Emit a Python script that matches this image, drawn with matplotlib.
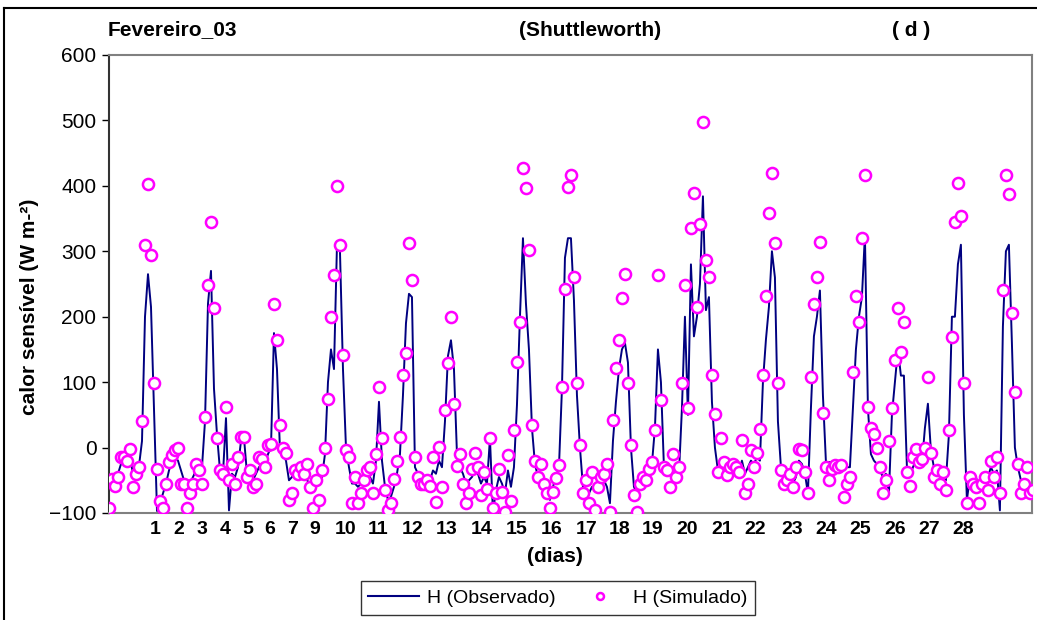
#!/usr/bin/env python3
'''Sensible heat flux, observed vs simulated (Shuttleworth), Feb 2003'''

import matplotlib
matplotlib.use('Agg')
import matplotlib.pyplot as plt
from matplotlib.lines import Line2D

# sample index along the x axis (category axis, one value per record)
obs = [
    -55, -50, -48, -40, -25, -20, -22, -15, -40, -35,
    -28, 10, 200, 265, 215, 60, -97, -85, -70, -55,
    -35, -20, -15, -20, -35, -50, -60, -55, -45, -35,
    -40, -30, 40, 220, 270, 90, 20, -35, -40, 45,
    -96, -40, -45, -30, 10, 15, -40, -45, -50, -40,
    -30, -25, -25, -10, 0, 175, 120, -5, -10, -20,
    -50, -45, -40, -38, -40, -45, -50, -55, -65, -55,
    -55, -45, -10, 100, 150, 120, 310, 300, 120, 0,
    -30, -55, -55, -60, -55, -50, -45, -45, -55, -20,
    70, -20, -60, -80, -75, -60, -40, -10, 80, 190,
    235, 230, -30, -40, -45, -50, -45, -50, -35, -40,
    -20, -30, 40, 140, 164, 120, -10, -30, -40, -55,
    -50, -45, -35, -40, -55, -45, -55, 14, -100, -65,
    -45, -55, -70, -35, -60, -30, 65, 200, 320, 220,
    150, 30, -25, -45, -40, -55, -65, -80, -60, -45,
    -30, 90, 290, 320, 320, 225, 80, 0, -60, -65,
    -70, -60, -65, -55, -55, -50, -60, -85, 10, 70,
    120, 150, 160, 130, 0, -60, -70, -55, -45, -45,
    -35, -25, 30, 150, 100, -30, -25, -40, -30, -50,
    -40, 60, 200, 50, 280, 170, 200, 250, 384, 210,
    230, 70, 0, -35, -30, -30, -35, -35, -32, -35,
    -40, -20, -40, -30, -20, -25, -15, -20, 100, 165,
    215, 300, 260, 40, -30, -50, -55, -55, -55, -45,
    -20, -25, -40, -70, 60, 170, 200, 240, 80, -22,
    -22, -22, -22, -22, -22, -22, -30, -30, 60, 150,
    200, 230, 325, 60, -10, -20, -25, -35, -45, -40,
    -70, 50, 100, 150, 110, 110, -30, -45, -30, -20,
    -25, -25, 30, 67, -5, -30, -40, -45, -45, -50,
    20, 200, 200, 280, 310, 50, -80, -45, -40, -45,
    -60, -45, -40, -45, -30, -40, -35, -96, 185, 300,
    310, 160, 0, -30, -50, -55, -50, -70, -60,
]

sim = [
    -93, -48, -58, -45, -15, -14, -20, -2, -60, -40,
    -30, 40, 310, 403, 294, 98, -32, -81, -93, -55,
    -22, -12, -4, 0, -55, -55, -93, -70, -55, -25,
    -35, -55, 47, 248, 345, 213, 14, -35, -40, 62,
    -50, -25, -55, -15, 16, 16, -45, -35, -60, -55,
    -15, -18, -30, 4, 6, 220, 164, 35, 0, -8,
    -80, -70, -35, -40, -30, -40, -25, -60, -93, -50,
    -80, -35, 0, 75, 200, 264, 400, 310, 141, -4,
    -15, -85, -45, -85, -70, -50, -35, -30, -70, -10,
    92, 14, -65, -95, -85, -48, -20, 16, 111, 144,
    312, 256, -14, -45, -55, -55, -50, -58, -14, -83,
    1, -60, 57, 129, 200, 67, -28, -10, -55, -85,
    -70, -32, -9, -30, -73, -37, -63, 14, -93, -70,
    -32, -68, -98, -12, -81, 27, 131, 192, 427, 396,
    302, 34, -20, -45, -25, -55, -70, -93, -68, -47,
    -27, 93, 243, 398, 417, 261, 98, 4, -70, -50,
    -85, -38, -95, -60, -45, -40, -25, -98, 42, 121,
    164, 228, 266, 98, 4, -73, -98, -55, -45, -50,
    -33, -22, 27, 264, 72, -30, -35, -60, -10, -45,
    -30, 98, 248, 60, 335, 389, 215, 342, 498, 287,
    260, 111, 52, -37, 14, -22, -42, -30, -25, -30,
    -37, 11, -70, -55, -4, -30, -9, 29, 111, 231,
    358, 419, 312, 98, -35, -55, -50, -40, -60, -30,
    -2, -4, -37, -70, 108, 220, 261, 314, 53, -30,
    -50, -32, -27, -30, -27, -75, -55, -45, 116, 231,
    192, 320, 417, 62, 30, 21, 0, -30, -70, -50,
    10, 60, 134, 213, 146, 192, -38, -58, -14, -2,
    -22, -18, 0, 108, -9, -45, -35, -55, -37, -65,
    27, 169, 345, 404, 354, 98, -85, -45, -55, -60,
    -85, -55, -45, -65, -20, -45, -15, -70, 241, 417,
    387, 205, 85, -25, -70, -55, -30, -70, -65,
]

# where Excel put the day labels along the sample index
day_labels = ['1', '2', '3', '4', '5', '6', '7', '9', '10', '11', '12', '13', '14',
              '15', '16', '17', '18', '19', '20', '21', '22', '23', '24', '25',
              '26', '27', '28']
day_ticks = [15.3, 23.3, 31.0, 38.7, 46.3, 53.7, 61.3, 68.7, 78.7, 89.7, 101.3,
             112.7, 124.3, 136.0, 147.7, 159.3, 170.3, 181.3, 192.7, 204.3, 215.3,
             227.7, 239.0, 250.3, 262.0, 273.3, 284.7]

W, H = 1037, 620
FONT = 'Liberation Sans'

plt.rcParams['font.family'] = [FONT, 'DejaVu Sans']

fig = plt.figure(figsize=(W / 100, H / 100), dpi=100)
ax = fig.add_axes([109 / W, 1 - 513 / H, 923 / W, 458 / H])

x = list(range(len(obs)))
ax.plot(x, obs, color='#000080', lw=1.4, zorder=2)
ax.plot(x, sim, ls='none', marker='o', ms=8, mew=1.8,
        mec='#FF00FF', mfc='white', zorder=3)

ax.set_xlim(0, 307.7)
ax.set_ylim(-100, 600)
ax.set_yticks(range(-100, 601, 100))
ax.tick_params(axis='y', direction='out', length=5, width=1, labelsize=15, pad=4)
ax.set_xticks(day_ticks)
ax.set_xticklabels(day_labels, fontsize=14, fontweight='bold')
ax.tick_params(axis='x', length=0, pad=6)

for side in ['top', 'right', 'bottom']:
    ax.spines[side].set_color('#808080')
    ax.spines[side].set_linewidth(1.5)
ax.spines['left'].set_color('#333333')
ax.spines['left'].set_linewidth(1.5)

# labels and header texts
fig.text(30 / W, 1 - 307 / H, 'calor sensível (W m-²)', rotation=90,
         ha='center', va='center', fontsize=15, fontweight='bold')
fig.text(555 / W, 1 - 556 / H, '(dias)', ha='center', va='center',
         fontsize=15, fontweight='bold')
fig.text(108 / W, 1 - 30 / H, 'Fevereiro_03', ha='left', va='center',
         fontsize=15, fontweight='bold')
fig.text(590 / W, 1 - 30 / H, '(Shuttleworth)', ha='center', va='center',
         fontsize=15, fontweight='bold')
fig.text(911 / W, 1 - 30 / H, '( d )', ha='center', va='center',
         fontsize=15, fontweight='bold')

handles = [Line2D([], [], color='#000080', lw=1.5),
           Line2D([], [], ls='none', marker='o', ms=5, mew=1.8,
                  mec='#FF00FF', mfc='white')]
leg = fig.legend(handles, ['H (Observado)', 'H (Simulado)'], ncol=2,
                 loc='center', bbox_to_anchor=(558 / W, 1 - 598 / H),
                 fontsize=14, frameon=True, fancybox=False, handlelength=2.6,
                 handletextpad=0.4, columnspacing=1.0, borderpad=0.4)
leg.get_frame().set_edgecolor('black')
leg.get_frame().set_linewidth(1.0)

# outer chart-area border (only left and top edges fall inside the image)
fig.add_artist(Line2D([4 / W, 4 / W], [0, 1 - 8 / H], color='black', lw=1.5))
fig.add_artist(Line2D([4 / W, 1], [1 - 8 / H, 1 - 8 / H], color='black', lw=1.5))

fig.savefig('out.png', dpi=100)
